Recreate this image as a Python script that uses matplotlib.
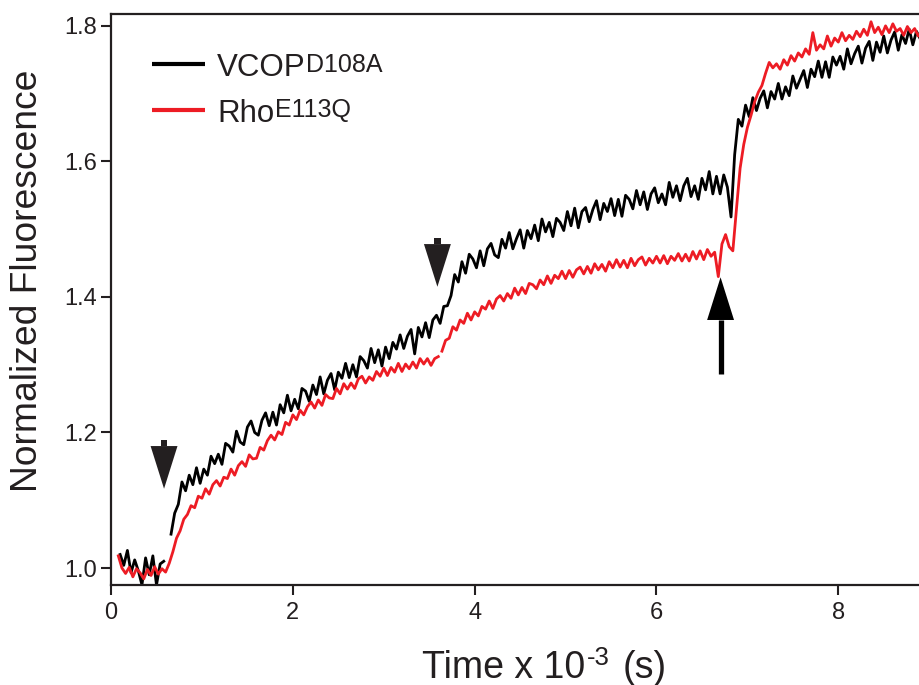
"""Stopped-flow style fluorescence traces: VCOP D108A vs Rho E113Q."""
import numpy as np
import matplotlib
matplotlib.use("Agg")
import matplotlib.pyplot as plt

plt.rcParams["font.family"] = ["Liberation Sans", "DejaVu Sans"]

STEP = 0.04  # sampling interval of the traces (x 10^3 s)

# VCOP D108A trace, baseline before first addition (starts t = 0.10)
VCOP_BASE_T0 = 0.10
VCOP_BASE = [1.020, 1.004, 1.026, 0.993, 1.012, 0.996, 0.975, 1.015, 0.990, 1.018,
             0.975, 1.006, 1.010]

# VCOP D108A trace after first addition (starts t = 0.66)
VCOP_T0 = 0.66
VCOP = [1.050, 1.081, 1.094, 1.127, 1.114, 1.137, 1.123, 1.148, 1.125, 1.146,
        1.137, 1.165, 1.154, 1.168, 1.153, 1.184, 1.180, 1.171, 1.202, 1.186,
        1.182, 1.208, 1.217, 1.200, 1.196, 1.218, 1.229, 1.210, 1.230, 1.211,
        1.241, 1.229, 1.255, 1.232, 1.249, 1.235, 1.265, 1.261, 1.246, 1.270,
        1.256, 1.282, 1.257, 1.277, 1.287, 1.263, 1.289, 1.280, 1.302, 1.281,
        1.300, 1.282, 1.312, 1.306, 1.295, 1.324, 1.303, 1.322, 1.298, 1.326,
        1.309, 1.333, 1.323, 1.344, 1.324, 1.342, 1.352, 1.316, 1.355, 1.341,
        1.362, 1.340, 1.366, 1.373, 1.361, 1.386, 1.387, 1.402, 1.433, 1.422,
        1.452, 1.435, 1.463, 1.456, 1.443, 1.468, 1.446, 1.471, 1.479, 1.462,
        1.458, 1.485, 1.472, 1.495, 1.471, 1.486, 1.499, 1.472, 1.498, 1.486,
        1.506, 1.483, 1.515, 1.496, 1.510, 1.489, 1.516, 1.510, 1.498, 1.526,
        1.505, 1.531, 1.502, 1.526, 1.532, 1.511, 1.529, 1.542, 1.514, 1.538,
        1.526, 1.545, 1.520, 1.544, 1.519, 1.550, 1.544, 1.530, 1.557, 1.536,
        1.555, 1.529, 1.552, 1.561, 1.539, 1.552, 1.536, 1.569, 1.547, 1.564,
        1.542, 1.564, 1.575, 1.548, 1.564, 1.544, 1.575, 1.558, 1.585, 1.552,
        1.578, 1.552, 1.580, 1.562, 1.518, 1.610, 1.662, 1.652, 1.683, 1.666,
        1.694, 1.675, 1.693, 1.704, 1.679, 1.703, 1.692, 1.715, 1.692, 1.710,
        1.697, 1.726, 1.708, 1.721, 1.734, 1.709, 1.736, 1.725, 1.748, 1.724,
        1.747, 1.724, 1.754, 1.742, 1.755, 1.736, 1.766, 1.744, 1.759, 1.770,
        1.745, 1.767, 1.777, 1.749, 1.776, 1.761, 1.785, 1.760, 1.779, 1.791,
        1.764, 1.787, 1.774, 1.795, 1.772, 1.792, 1.781]

# Rho E113Q trace up to the second addition (starts t = 0.08)
RHO_A_T0 = 0.08
RHO_A = [1.018, 1.000, 0.992, 1.001, 0.987, 0.999, 0.993, 0.984, 0.998, 0.989,
         1.002, 0.991, 0.999, 0.994, 1.007, 1.024, 1.044, 1.055, 1.072, 1.079,
         1.092, 1.089, 1.106, 1.103, 1.117, 1.109, 1.123, 1.129, 1.121, 1.134,
         1.132, 1.146, 1.137, 1.151, 1.157, 1.150, 1.167, 1.161, 1.162, 1.178,
         1.174, 1.188, 1.196, 1.189, 1.201, 1.197, 1.215, 1.211, 1.226, 1.219,
         1.233, 1.226, 1.238, 1.245, 1.236, 1.248, 1.240, 1.256, 1.251, 1.250,
         1.265, 1.257, 1.272, 1.264, 1.273, 1.265, 1.279, 1.283, 1.273, 1.282,
         1.277, 1.290, 1.283, 1.295, 1.284, 1.296, 1.289, 1.302, 1.290, 1.301,
         1.294, 1.304, 1.295, 1.309, 1.301, 1.309, 1.299, 1.309, 1.312]

# Rho E113Q trace after the second addition (starts t = 3.64)
RHO_B_T0 = 3.64
RHO_B = [1.320, 1.336, 1.339, 1.356, 1.351, 1.366, 1.361, 1.376, 1.366, 1.378,
         1.372, 1.386, 1.382, 1.394, 1.383, 1.397, 1.402, 1.394, 1.405, 1.398,
         1.413, 1.403, 1.414, 1.405, 1.420, 1.418, 1.412, 1.425, 1.418, 1.431,
         1.420, 1.432, 1.427, 1.438, 1.427, 1.439, 1.429, 1.440, 1.444, 1.434,
         1.445, 1.435, 1.449, 1.440, 1.448, 1.438, 1.452, 1.443, 1.455, 1.444,
         1.454, 1.443, 1.457, 1.446, 1.455, 1.459, 1.447, 1.457, 1.450, 1.460,
         1.450, 1.461, 1.449, 1.460, 1.454, 1.464, 1.453, 1.463, 1.453, 1.467,
         1.456, 1.468, 1.455, 1.470, 1.460, 1.466, 1.430, 1.478, 1.492, 1.474,
         1.468, 1.530, 1.590, 1.625, 1.650, 1.668, 1.688, 1.702, 1.712, 1.730,
         1.746, 1.738, 1.744, 1.736, 1.750, 1.742, 1.756, 1.748, 1.760, 1.754,
         1.766, 1.758, 1.790, 1.764, 1.772, 1.766, 1.785, 1.770, 1.782, 1.776,
         1.790, 1.778, 1.786, 1.780, 1.792, 1.784, 1.795, 1.786, 1.806, 1.790,
         1.798, 1.787, 1.800, 1.790, 1.803, 1.792, 1.796, 1.786, 1.799, 1.790,
         1.796, 1.785, 1.792]

SERIES_NAMES = ["VCOP", "Rho"]
SERIES_SUPERSCRIPTS = ["D108A", "E113Q"]
SERIES_COLORS = ["#000000", "#ED1C24"]

X_TICKS = [0, 2, 4, 6, 8]
Y_TICKS = [1.0, 1.2, 1.4, 1.6, 1.8]

# addition markers: tips of the arrowheads (time, fluorescence)
DOWN_MARKS = [(0.583, 1.117), (3.59, 1.415)]
UP_MARK = (6.705, 1.429)

TEXT_COLOR = "#231F20"


def times(t0, values):
    return t0 + STEP * np.arange(len(values))


fig = plt.figure(figsize=(9.2, 6.85), dpi=100)
ax = fig.add_axes([0.1207, 0.146, 0.8893, 0.8336])

lw = 2.0
ax.plot(times(VCOP_BASE_T0, VCOP_BASE), VCOP_BASE, color=SERIES_COLORS[0], lw=lw)
ax.plot(times(VCOP_T0, VCOP), VCOP, color=SERIES_COLORS[0], lw=lw)
ax.plot(times(RHO_A_T0, RHO_A), RHO_A, color=SERIES_COLORS[1], lw=lw)
ax.plot(times(RHO_B_T0, RHO_B), RHO_B, color=SERIES_COLORS[1], lw=lw)

# arrowheads marking the additions
hw, hh = 0.148, 0.063
for tx, ty in DOWN_MARKS:
    ax.fill([tx - hw, tx + hw, tx], [ty + hh, ty + hh, ty], color=TEXT_COLOR, lw=0)
    ax.fill([tx - 0.035, tx + 0.035, tx + 0.035, tx - 0.035],
            [ty + hh, ty + hh, ty + hh + 0.009, ty + hh + 0.009],
            color=TEXT_COLOR, lw=0)
tx, ty = UP_MARK
ax.fill([tx - hw, tx + hw, tx], [ty - hh, ty - hh, ty], color="black", lw=0)
ax.plot([tx, tx], [ty - hh, 1.286], color="black", lw=3.8, solid_capstyle="butt")

# legend drawn by hand to match the original layout
for i, (name, sup, col) in enumerate(zip(SERIES_NAMES, SERIES_SUPERSCRIPTS,
                                         SERIES_COLORS)):
    y = 0.912 - i * 0.080
    ax.plot([0.050, 0.115], [y, y], color=col, lw=3, transform=ax.transAxes,
            solid_capstyle="butt")
    t = ax.text(0.1296, y - 0.021, name, transform=ax.transAxes, fontsize=22.5,
                va="baseline", ha="left", color=TEXT_COLOR)
    ax.annotate(sup, xy=(1, 1), xycoords=t, xytext=(0.5, 0.5),
                textcoords="offset points", fontsize=18, va="top", ha="left",
                color=TEXT_COLOR)

ax.set_xlim(0, 9)
ax.set_ylim(0.975, 1.8175)
ax.set_xticks(X_TICKS)
ax.set_yticks(Y_TICKS)
ax.set_yticklabels([f"{v:.1f}" for v in Y_TICKS])
ax.tick_params(direction="out", length=7, width=1.5, labelsize=17,
               colors=TEXT_COLOR)
ax.tick_params(axis="x", pad=5)
ax.tick_params(axis="y", pad=3)
for side in ("left", "bottom", "top", "right"):
    ax.spines[side].set_linewidth(1.6)
    ax.spines[side].set_color(TEXT_COLOR)

# x label with superscript exponent, built from pieces
xl = fig.text(0.4587, 0.0105, "Time x 10", fontsize=27, va="baseline",
              ha="left", color=TEXT_COLOR)
xs = ax.annotate("-3", xy=(1, 1), xycoords=xl, xytext=(1, 2.5),
                 textcoords="offset points", fontsize=18.5, va="top", ha="left",
                 color=TEXT_COLOR, annotation_clip=False)
ax.annotate("(s)", xy=(1, 0), xycoords=(xs, xl), xytext=(9.5, 0),
            textcoords="offset points", fontsize=27, va="bottom", ha="left",
            color=TEXT_COLOR, annotation_clip=False)

ax.set_ylabel("Normalized Fluorescence", fontsize=26.8, color=TEXT_COLOR)
ax.yaxis.set_label_coords(-0.081, 0.532)

fig.savefig("out.png", dpi=100)
